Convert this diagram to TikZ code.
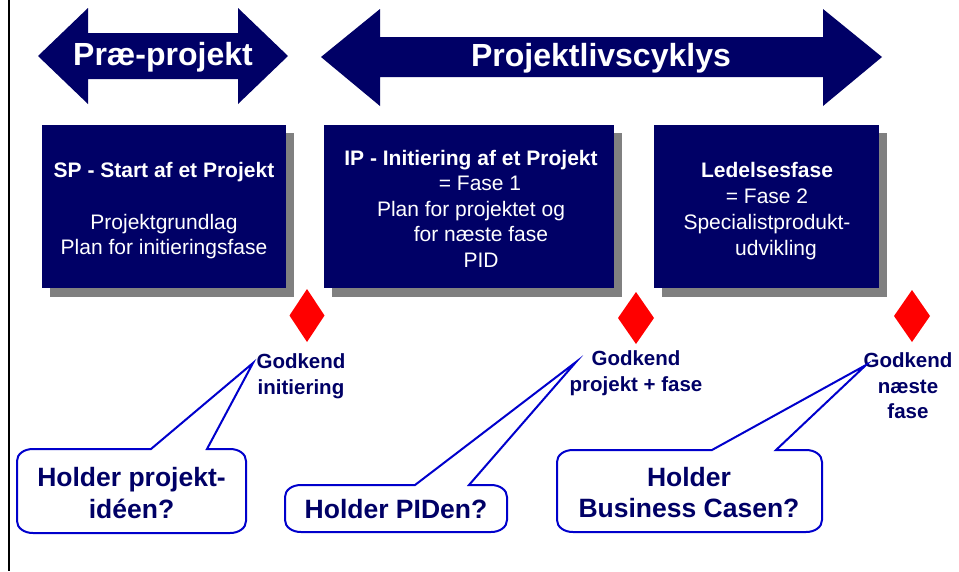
\documentclass[tikz,border=0pt]{standalone}
\usepackage{fontspec}
\setmainfont{Liberation Sans}
\definecolor{navy}{HTML}{000066}
\definecolor{shadowgrey}{HTML}{808080}
\definecolor{callblue}{HTML}{0000CC}
\definecolor{diared}{HTML}{FF0000}
\begin{document}
\begin{tikzpicture}[x=1pt,y=-1pt,
  bigarrow/.style={fill=navy,draw=none},
  arrowtext/.style={text=white,font=\fontsize{32}{36}\selectfont\bfseries,inner sep=0pt},
  phasebox/.style={fill=navy,draw=none},
  boxshadow/.style={fill=shadowgrey,draw=none},
  boxtext/.style={text=white,align=center,inner sep=0pt,font=\fontsize{21}{25.5}\selectfont},
  gate/.style={fill=diared,draw=none},
  gatelabel/.style={text=navy,align=center,inner sep=0pt,font=\fontsize{20.5}{25.5}\selectfont\bfseries},
  callout/.style={draw=callblue,fill=white,line width=2pt,line join=miter},
  callouttext/.style={text=navy,align=center,inner sep=0pt,font=\fontsize{26.5}{31.5}\selectfont\bfseries}]
\useasboundingbox[fill=white] (0,0) rectangle (959,571);
% left frame line
\draw[line width=2pt,black] (8.5,0) -- (8.5,571);
% arrows
\fill[bigarrow] (38,56) -- (88,8) -- (88,33) -- (238,33) -- (238,8) -- (288,56) -- (238,104) -- (238,79) -- (88,79) -- (88,104) -- cycle;
\node[arrowtext] (pre) at (163,57) {Præ-projekt};
\fill[bigarrow] (321,57) -- (380,9) -- (380,37) -- (823,37) -- (823,9) -- (882,57) -- (823,106) -- (823,77) -- (380,77) -- (380,106) -- cycle;
\node[arrowtext] (life) at (601,58) {Projektlivscyklys};
% phase boxes
\fill[boxshadow] (50,133) rectangle (294,297);
\fill[phasebox] (42,125) rectangle (286,288);
\node[boxtext] (sp) at (164,211) {\textbf{SP - Start af et Projekt}\\[26pt]Projektgrundlag\\Plan for initieringsfase};
\fill[boxshadow] (332,133) rectangle (622,297);
\fill[phasebox] (324,125) rectangle (614,288);
\node[boxtext] (ip) at (471,208.5) {\textbf{IP - Initiering af et Projekt}\\\hspace*{18pt}= Fase 1\\Plan for projektet og\\\hspace*{20pt}for næste fase\\\hspace*{20pt}PID};
\fill[boxshadow] (662,133) rectangle (887,297);
\fill[phasebox] (654,125) rectangle (879,288);
\node[boxtext,font=\fontsize{21}{25.8}\selectfont] (led) at (767,211) {\textbf{Ledelsesfase}\\= Fase 2\\Specialistprodukt-\\\hspace*{18pt}udvikling};
% gates
\fill[gate] (307,289) -- (324.5,315.5) -- (307,342) -- (289.5,315.5) -- cycle;
\fill[gate] (636,292) -- (654,318) -- (636,344) -- (618,318) -- cycle;
\fill[gate] (912,290) -- (930,316) -- (912,342) -- (894,316) -- cycle;
\node[gatelabel] (g1) at (301,376) {Godkend\\initiering};
\node[gatelabel] (g2) at (636,373) {Godkend\\projekt + fase};
\node[gatelabel] (g3) at (908,386) {Godkend\\næste\\fase};
% callout tips
\coordinate (t1) at (253,363);
\coordinate (t2) at (576,362);
\coordinate (t3) at (866,365);
% callouts
\draw[callout] (151,449) -- (t1) -- (207,449) -- (230,449) .. controls (239,449) and (246,454) .. (246,461) -- (246,521) .. controls (246,528) and (239,533) .. (230,533) -- (33,533) .. controls (24,533) and (17,528) .. (17,521) -- (17,461) .. controls (17,454) and (24,449) .. (33,449) -- cycle;
\node[callouttext] (c1) at (131.5,493) {Holder projekt-\\idéen?};
\draw[callout] (415,485) -- (t2) -- (469,485) -- (491,485) .. controls (500,485) and (507,490) .. (507,497) -- (507,520) .. controls (507,527) and (500,532) .. (491,532) -- (301,532) .. controls (292,532) and (285,527) .. (285,520) -- (285,497) .. controls (285,490) and (292,485) .. (301,485) -- cycle;
\node[callouttext] (c2) at (396,509) {Holder PIDen?};
\draw[callout] (712,450) -- (t3) -- (776,450) -- (806,450) .. controls (815,450) and (822,455) .. (822,462) -- (822,520) .. controls (822,527) and (815,532) .. (806,532) -- (573,532) .. controls (564,532) and (557,527) .. (557,520) -- (557,462) .. controls (557,455) and (564,450) .. (573,450) -- cycle;
\node[callouttext] (c3) at (689,492.5) {Holder\\Business Casen?};
\end{tikzpicture}
\end{document}
